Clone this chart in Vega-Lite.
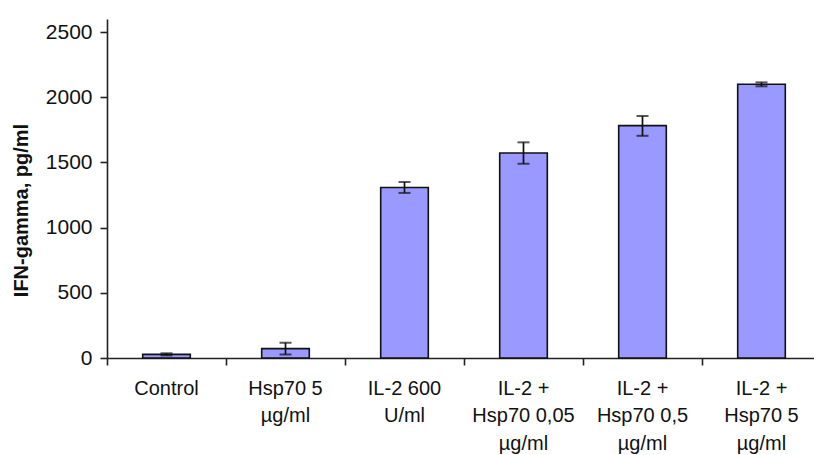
{
  "$schema": "https://vega.github.io/schema/vega-lite/v6.json",
  "autosize": "none",
  "width": 707,
  "height": 339,
  "padding": {"left": 107, "top": 19, "right": 0, "bottom": 97},
  "background": "white",
  "config": {
    "font": "Liberation Sans",
    "view": {"stroke": null},
    "axis": {"grid": false, "domainColor": "#222", "tickColor": "#222", "domainWidth": 1.6, "tickWidth": 1.6, "labelColor": "#111", "titleColor": "#111"}
  },
  "data": {
    "values": [
      {"group": "Control", "mean": 28, "lo": 20, "hi": 36},
      {"group": "Hsp70 5|µg/ml", "mean": 72, "lo": 27, "hi": 117},
      {"group": "IL-2 600|U/ml", "mean": 1308, "lo": 1266, "hi": 1350},
      {"group": "IL-2 +|Hsp70 0,05|µg/ml", "mean": 1572, "lo": 1490, "hi": 1654},
      {"group": "IL-2 +|Hsp70 0,5|µg/ml", "mean": 1782, "lo": 1704, "hi": 1856},
      {"group": "IL-2 +|Hsp70 5|µg/ml", "mean": 2100, "lo": 2084, "hi": 2114}
    ]
  },
  "encoding": {
    "x": {
      "field": "group",
      "type": "nominal",
      "sort": null,
      "scale": {"paddingInner": 0, "paddingOuter": 0, "range": [0, 714]},
      "axis": {
        "title": null,
        "labelAngle": 0,
        "bandPosition": 0,
        "labelExpr": "split(datum.label, '|')",
        "labelFontSize": 20,
        "labelLineHeight": 27.5,
        "labelPadding": 13,
        "tickSize": 7,
        "labelBound": false,
        "labelOverlap": false,
        "labelFlush": false
      }
    }
  },
  "layer": [
    {
      "mark": {"type": "bar", "width": {"band": 0.4}, "fill": "#9999FF", "stroke": "#111", "strokeWidth": 1.6},
      "encoding": {
        "y": {
          "field": "mean",
          "type": "quantitative",
          "scale": {"domain": [0, 2500]},
          "axis": {
            "title": "IFN-gamma, pg/ml",
            "titleFontSize": 20,
            "titleFontWeight": "bold",
            "titlePadding": 14,
            "titleY": 191,
            "labelFontSize": 21,
            "labelPadding": 8,
            "tickSize": 7,
            "format": "d",
            "values": [0, 500, 1000, 1500, 2000, 2500]
          }
        }
      }
    },
    {
      "mark": {"type": "rule", "color": "#111", "strokeWidth": 1.7},
      "encoding": {
        "y": {"field": "lo", "type": "quantitative"},
        "y2": {"field": "hi"}
      }
    },
    {
      "mark": {"type": "tick", "color": "#111", "thickness": 2, "size": 12},
      "encoding": {"y": {"field": "lo", "type": "quantitative"}}
    },
    {
      "mark": {"type": "tick", "color": "#111", "thickness": 2, "size": 12},
      "encoding": {"y": {"field": "hi", "type": "quantitative"}}
    }
  ]
}
